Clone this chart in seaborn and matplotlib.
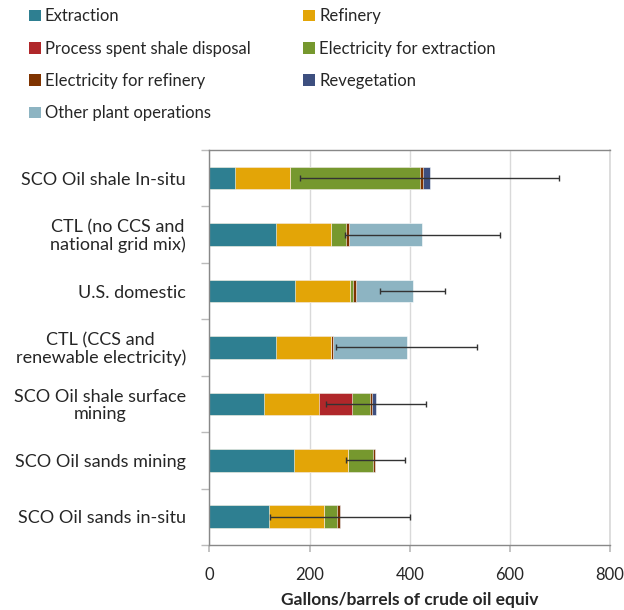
import numpy as np
import pandas as pd
import seaborn as sns
import matplotlib.pyplot as plt
from matplotlib.patches import Patch
from matplotlib.ticker import FixedLocator

categories = ["SCO Oil shale In-situ",
              "CTL (no CCS and\nnational grid mix)",
              "U.S. domestic",
              "CTL (CCS and\nrenewable electricity)",
              "SCO Oil shale surface\nmining",
              "SCO Oil sands mining",
              "SCO Oil sands in-situ"]
extraction = [51, 132, 171, 132, 109, 168, 118]
refinery = [110, 110, 110, 110, 109, 108, 110]
process_spent = [0, 0, 0, 0, 66, 0, 0]
elec_extraction = [260, 31, 5, 1, 37, 50, 27]
elec_refinery = [6, 6, 6, 4, 4, 5, 6]
revegetation = [13, 0, 0, 0, 7, 0, 0]
other_ops = [0, 145, 114, 147, 0, 0, 0]
err_low = [181, 271, 341, 252, 232, 272, 121]
err_high = [698, 580, 470, 534, 432, 390, 400]

series_names = ["Extraction", "Refinery", "Process spent shale disposal",
                "Electricity for extraction", "Electricity for refinery",
                "Revegetation", "Other plant operations"]
series_vals = [extraction, refinery, process_spent, elec_extraction,
               elec_refinery, revegetation, other_ops]
colors = ["#2E7F91", "#E3A507", "#B0272A", "#76982E", "#7F3300",
          "#3D4F7F", "#8DB4C2"]

sns.set_theme(style="white")
plt.rcParams['font.family'] = ['Lato', 'DejaVu Sans']

fig = plt.figure(figsize=(6.24, 6.10), dpi=100)
ax = fig.add_axes([209.5/624, 1-545/610, (610-209.5)/624, (545-150)/610])

cum = np.cumsum(np.array(series_vals), axis=0)
for i in range(len(series_names)-1, -1, -1):
    df = pd.DataFrame({"cat": categories, "val": cum[i]})
    sns.barplot(data=df, x="val", y="cat", orient="h", color=colors[i],
                width=0.4, ax=ax, edgecolor="white", linewidth=0.4,
                saturation=1)

pos = np.arange(len(categories))
lo = np.array(err_low); hi = np.array(err_high)
ax.errorbar((lo+hi)/2, pos, xerr=(hi-lo)/2, fmt='none', ecolor='#333333',
            elinewidth=1.0, capsize=2, capthick=1.0, zorder=5)

ax.set_xlim(0, 800)
ax.set_ylim(6.5, -0.5)
ax.set_xticks([0, 200, 400, 600, 800])
ax.set_xticklabels(["0", "200", "400", "600", "800"], fontsize=12)
ax.xaxis.grid(True, color="#d9d9d9", linewidth=1)
ax.set_axisbelow(True)
ax.set_xlabel("Gallons/barrels of crude oil equiv", fontsize=12.5,
              fontweight="bold", labelpad=6)
ax.set_ylabel("")
ax.set_yticks(pos)
ax.set_yticklabels(categories, fontsize=13, multialignment="center",
                   linespacing=1.05)
ax.yaxis.set_minor_locator(FixedLocator(np.arange(-0.5, 7, 1)))
ax.tick_params(axis="y", which="major", length=0, pad=17)
ax.tick_params(axis="y", which="minor", length=6, color="#bbbbbb", left=True)
ax.tick_params(axis="x", which="major", length=5, color="#bbbbbb", bottom=True, pad=11)
for s in ["left", "bottom", "top"]:
    ax.spines[s].set_color("#888888")
    ax.spines[s].set_linewidth(1)
ax.spines["right"].set_color("#d9d9d9")

order = [0, 2, 4, 6, 1, 3, 5]
handles = [Patch(facecolor=colors[i], edgecolor="none") for i in order]
labels = [series_names[i] for i in order]
fig.legend(handles, labels, ncol=2, loc="upper left",
           bbox_to_anchor=(0.036, 0.997), frameon=False, fontsize=12,
           handlelength=0.7, handleheight=0.7, handletextpad=0.25,
           columnspacing=3.15, labelspacing=0.98, borderaxespad=0)

fig.savefig("out.png", dpi=100)
